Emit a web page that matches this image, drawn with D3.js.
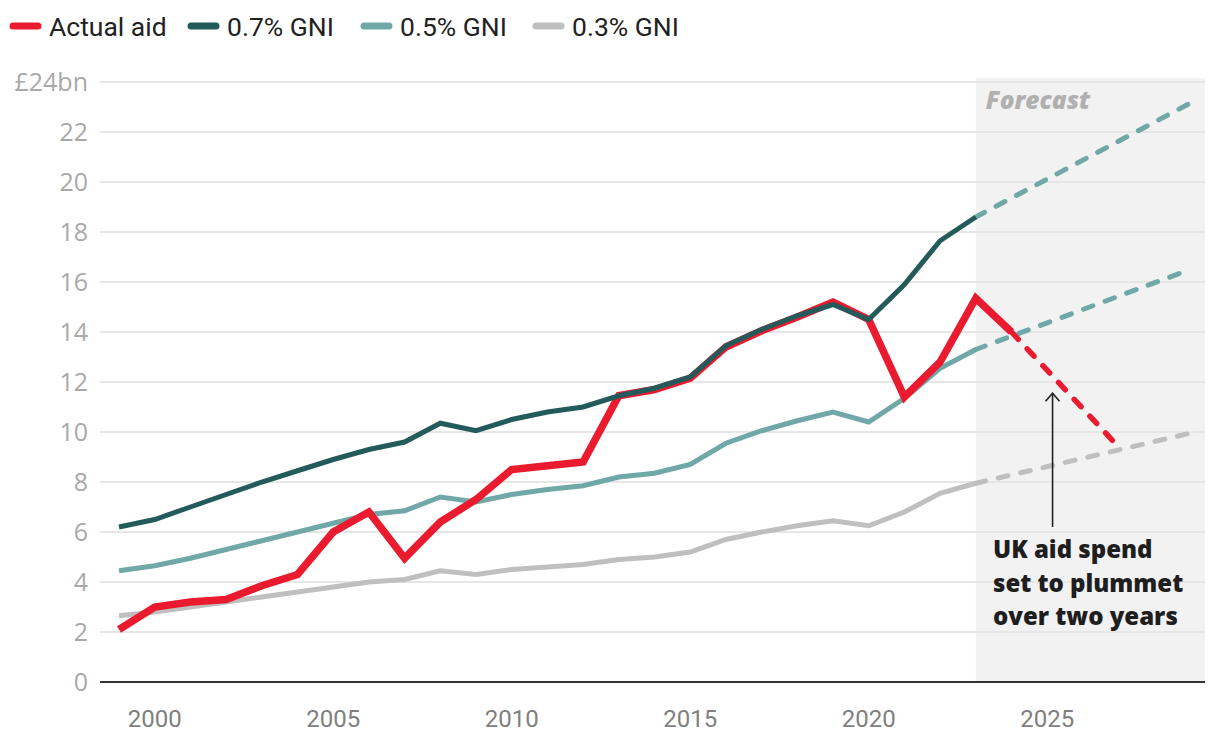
<!DOCTYPE html>
<html>
<head>
<meta charset="utf-8">
<script src="https://cdn.jsdelivr.net/npm/d3@7"></script>
<style>
  html, body { margin: 0; padding: 0; background: #fff; }
  svg { display: block; }
</style>
</head>
<body>
<svg id="chart" width="1220" height="734"></svg>
<script>
// ---------- data ----------
const years = d3.range(1999, 2024); // 1999..2023
const actualYears = d3.range(1999, 2025); // 1999..2024
const actualAid = [2.1, 3.0, 3.2, 3.3, 3.85, 4.3, 6.0, 6.8, 4.95, 6.4, 7.3, 8.5, 8.65, 8.8, 11.45, 11.7, 12.15, 13.4, 14.05, 14.6, 15.2, 14.5, 11.4, 12.8, 15.35, 14.0];
const gni07 = [6.2, 6.5, 7.0, 7.5, 8.0, 8.45, 8.9, 9.3, 9.6, 10.35, 10.05, 10.5, 10.8, 11.0, 11.45, 11.75, 12.2, 13.45, 14.1, 14.65, 15.1, 14.5, 15.9, 17.65, 18.6];
const gni05 = [4.45, 4.65, 4.95, 5.3, 5.65, 6.0, 6.35, 6.7, 6.85, 7.4, 7.2, 7.5, 7.7, 7.85, 8.2, 8.35, 8.7, 9.55, 10.05, 10.45, 10.8, 10.4, 11.35, 12.55, 13.3];
const gni03 = [2.65, 2.8, 3.0, 3.2, 3.4, 3.6, 3.8, 4.0, 4.1, 4.45, 4.3, 4.5, 4.6, 4.7, 4.9, 5.0, 5.2, 5.7, 6.0, 6.25, 6.45, 6.25, 6.8, 7.55, 7.95];

// forecasts
const fcYears = [2023, 2029];
const fc07 = [18.6, 23.15];
const fc05 = [13.3, 16.5];
const fc03 = [7.95, 9.95];
const fcActualYears = [2024, 2027];
const fcActual = [14.0, 9.4];

const yTicks = [0, 2, 4, 6, 8, 10, 12, 14, 16, 18, 20, 22, 24];
const xTicks = [2000, 2005, 2010, 2015, 2020, 2025];
const forecastStart = 2023;

const legendLabels = ["Actual aid", "0.7% GNI", "0.5% GNI", "0.3% GNI"];
const annotationLines = ["UK aid spend", "set to plummet", "over two years"];
const arrowYear = 2025.15, arrowFrom = 6.2, arrowTo = 11.55;

// ---------- styles ----------
const C = { red: "#ea1b2e", dark: "#235a5a", teal: "#70a7a7", grey: "#bfbfbf" };
const legendColors = [C.red, C.dark, C.teal, C.grey];

// ---------- layout ----------
const svg = d3.select("#chart");
const plotLeft = 100, plotRight = 1205;
const x = d3.scaleLinear().domain([1999, 2029]).range([119, 1190]);
const y = d3.scaleLinear().domain([0, 24]).range([682, 82]);

// forecast shading
svg.append("rect")
  .attr("x", x(forecastStart)).attr("y", y(24) - 4)
  .attr("width", plotRight - x(forecastStart)).attr("height", y(0) - y(24) + 4)
  .attr("fill", "#f2f2f2");

// gridlines
svg.append("g").selectAll("line").data(yTicks.filter(d => d > 0)).join("line")
  .attr("x1", plotLeft).attr("x2", plotRight)
  .attr("y1", d => y(d)).attr("y2", d => y(d))
  .attr("stroke", "#e6e6e6").attr("stroke-width", 2);

// y labels
svg.append("g").selectAll("text").data(yTicks).join("text")
  .attr("x", 88).attr("y", d => y(d))
  .attr("dy", "0.36em")
  .attr("text-anchor", "end")
  .attr("font-family", "'Open Sans', sans-serif")
  .attr("font-size", 25)
  .attr("fill", "#a9a9a9")
  .text(d => d === 24 ? "£24bn" : d);

// x axis line
svg.append("line")
  .attr("x1", plotLeft).attr("x2", plotRight)
  .attr("y1", y(0)).attr("y2", y(0))
  .attr("stroke", "#333").attr("stroke-width", 2);

// x labels
svg.append("g").selectAll("text").data(xTicks).join("text")
  .attr("x", d => x(d)).attr("y", 727)
  .attr("text-anchor", "middle")
  .attr("font-family", "Roboto, sans-serif")
  .attr("font-size", 24)
  .attr("fill", "#808080")
  .text(d => d);

// "Forecast" label
svg.append("text")
  .attr("x", x(forecastStart) + 10).attr("y", 109)
  .attr("font-family", "'Open Sans', sans-serif")
  .attr("font-size", 24.5).attr("font-weight", 800).attr("font-style", "italic")
  .attr("fill", "#b0b0b0")
  .text("Forecast");

const line = d3.line().x(d => x(d[0])).y(d => y(d[1]));
const zipv = (xs, vs) => xs.map((v, i) => [v, vs[i]]);

function drawLine(xs, vs, color, width, dashed) {
  svg.append("path")
    .datum(zipv(xs, vs))
    .attr("d", line)
    .attr("fill", "none")
    .attr("stroke", color)
    .attr("stroke-width", width)
    .attr("stroke-linejoin", dashed ? "round" : "miter")
    .attr("stroke-linecap", dashed ? "round" : "butt")
    .attr("stroke-dasharray", dashed ? "10,13" : null);
}

// forecasts (dashed)
drawLine(fcYears, fc03, C.grey, 5, true);
drawLine(fcYears, fc05, C.teal, 5, true);
drawLine(fcYears, fc07, C.teal, 5, true);
drawLine(fcActualYears, fcActual, C.red, 5.5, true);

// history
drawLine(years, gni03, C.grey, 5, false);
drawLine(years, gni05, C.teal, 5, false);
drawLine(actualYears, actualAid, C.red, 7.5, false);
drawLine(years, gni07, C.dark, 5, false);

// annotation arrow
const ax = x(arrowYear);
svg.append("line")
  .attr("x1", ax).attr("x2", ax)
  .attr("y1", y(arrowFrom)).attr("y2", y(arrowTo))
  .attr("stroke", "#222").attr("stroke-width", 1.6);
svg.append("path")
  .attr("d", `M${ax - 7},${y(arrowTo) + 8} L${ax},${y(arrowTo)} L${ax + 7},${y(arrowTo) + 8}`)
  .attr("fill", "none").attr("stroke", "#222").attr("stroke-width", 1.6);

svg.append("g").selectAll("text").data(annotationLines).join("text")
  .attr("x", 993).attr("y", (d, i) => 558 + i * 33.5)
  .attr("font-family", "'Open Sans', sans-serif")
  .attr("font-size", 24).attr("font-weight", 800)
  .attr("fill", "#1e1e1e")
  .text(d => d);

// legend
const legendX = [10, 188, 361, 533];
const lg = svg.append("g").selectAll("g").data(legendLabels).join("g")
  .attr("transform", (d, i) => `translate(${legendX[i]},26)`);
lg.append("line")
  .attr("x1", 3).attr("x2", 28).attr("y1", 0).attr("y2", 0)
  .attr("stroke", (d, i) => legendColors[i])
  .attr("stroke-width", 7).attr("stroke-linecap", "round");
lg.append("text")
  .attr("x", 39).attr("y", 0).attr("dy", "0.36em")
  .attr("font-family", "Roboto, sans-serif")
  .attr("font-size", 26.5)
  .attr("fill", "#222")
  .text(d => d);
</script>
</body>
</html>
